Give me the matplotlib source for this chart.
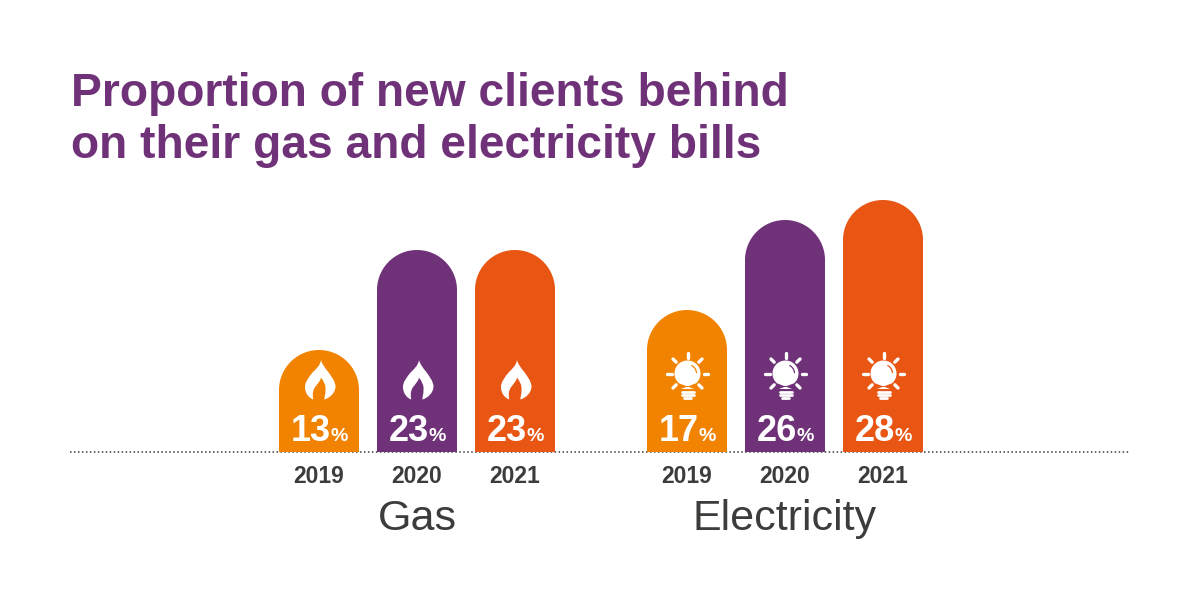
import numpy as np
import matplotlib
matplotlib.use('Agg')
import matplotlib.pyplot as plt
from matplotlib.patches import PathPatch, Polygon
from matplotlib.path import Path
from matplotlib.transforms import Affine2D

plt.rcParams['font.family'] = ['Liberation Sans', 'DejaVu Sans']

title_lines = ['Proportion of new clients behind', 'on their gas and electricity bills']
years = ['2019', '2020', '2021']
gas_values = [13, 23, 23]
electricity_values = [17, 26, 28]
groups = ['Gas', 'Electricity']

PURPLE = '#6f3278'
ORANGE = '#f28300'
RED = '#e95513'
DARK = '#3c3c3b'
year_colors = [ORANGE, PURPLE, RED]

# axes fill the figure: x is in pixels, 1 percent point is 10 px high
PX = 0.1
BASE = 2.8
BAR_W = 80
ICON_Y = 10


def rounded_bar(ax, x, value, color):
    r = BAR_W / 2
    top = value - r * PX
    theta = np.linspace(np.pi, 0, 60)
    xs = np.r_[x - r, x + r * np.cos(theta), x + r]
    ys = np.r_[BASE, top + r * PX * np.sin(theta), BASE]
    ax.add_patch(Polygon(np.c_[xs, ys], closed=True, fc=color, ec='none'))


def icon_transform(ax, x):
    # icon shapes are written in pixels around their centre, y going up
    return Affine2D().scale(1, PX).translate(x, ICON_Y) + ax.transData


def flame(ax, x):
    verts = [
        (2, 20),
        (1, 14), (-3, 11), (-6, 8),
        (-10, 3), (-14.5, -2), (-14, -8),
        (-13.5, -14), (-10, -18), (-5.7, -19.5),
        (-7, -14), (-6, -9), (-3, -6),
        (-1, -3), (1.5, -1), (2, 2.5),
        (5, -2), (7, -5), (6.5, -10),
        (6.5, -14), (5.5, -17), (5.3, -19.5),
        (11, -18), (16, -13), (16.5, -7),
        (16.5, -1), (12, 4), (9.3, 8),
        (6, 12), (3, 16), (2, 20),
        (2, 20),
    ]
    codes = [Path.MOVETO] + [Path.CURVE4] * 30 + [Path.CLOSEPOLY]
    ax.add_patch(PathPatch(Path(verts, codes), fc='white', ec='none',
                           transform=icon_transform(ax, x)))


def bulb(ax, x, color):
    tr = icon_transform(ax, x)
    cx, cy = 0.5, 6.5
    theta = np.linspace(-np.pi * 0.27, np.pi * 1.27, 80)
    glass = np.c_[cx + 13 * np.cos(theta), cy + 13 * np.sin(theta)]
    neck = [(cx - 6.5, -9), (cx + 6.5, -9)]
    ax.add_patch(Polygon(np.r_[neck[:1], glass, neck[1:]], closed=True,
                         fc='white', ec='none', transform=tr))
    # highlight inside the glass
    a = np.linspace(np.radians(5), np.radians(62), 20)
    ax.plot(cx + 9 * np.cos(a), cy + 9 * np.sin(a), color=color, lw=0.9,
            transform=tr, solid_capstyle='round')
    # screw base
    for y0, half in [(-11.5, 6), (-14.5, 6), (-18, 3.8)]:
        ax.plot([cx - half, cx + half], [y0, y0], color='white', lw=2.0,
                transform=tr, solid_capstyle='round')
    # rays
    for deg in [90, 45, 135, 0, 180, -45, 225]:
        c, s = np.cos(np.radians(deg)), np.sin(np.radians(deg))
        ax.plot([cx + 16 * c, cx + 20.5 * c], [cy + 16 * s, cy + 20.5 * s],
                color='white', lw=2.4, transform=tr, solid_capstyle='round')


fig = plt.figure(figsize=(12, 6), dpi=100)
ax = fig.add_axes([0, 0, 1, 1])
ax.set_xlim(0, 1200)
ax.set_ylim(-12, 48)
ax.axis('off')

for line, v in zip(title_lines, [37.4, 32.2]):
    ax.text(71, v, line, fontsize=33.2, fontweight='bold', color=PURPLE,
            ha='left', va='baseline')

ax.plot([70, 1130], [BASE, BASE], color=DARK, lw=1.1, ls=(0, (1, 1.6)), zorder=1)

group_data = [gas_values, electricity_values]
group_starts = [319, 687]
group_icons = ['flame', 'bulb']

for group, values, start, icon in zip(groups, group_data, group_starts, group_icons):
    for i, (year, value) in enumerate(zip(years, values)):
        x = start + i * 98
        color = year_colors[i]
        rounded_bar(ax, x, value, color)
        if icon == 'flame':
            flame(ax, x)
        else:
            bulb(ax, x, color)
        ax.text(x + 12, 3.9, str(value), fontsize=26, fontweight='bold',
                color='white', ha='right', va='baseline')
        ax.text(x + 11.5, 3.9, '%', fontsize=14, fontweight='bold',
                color='white', ha='left', va='baseline')
        ax.text(x, -0.3, year, fontsize=16.5, fontweight='bold', color=DARK,
                ha='center', va='baseline')
    ax.text(start + 98, -5, group, fontsize=31, color=DARK, ha='center',
            va='baseline')

fig.savefig('out.png', dpi=100)
